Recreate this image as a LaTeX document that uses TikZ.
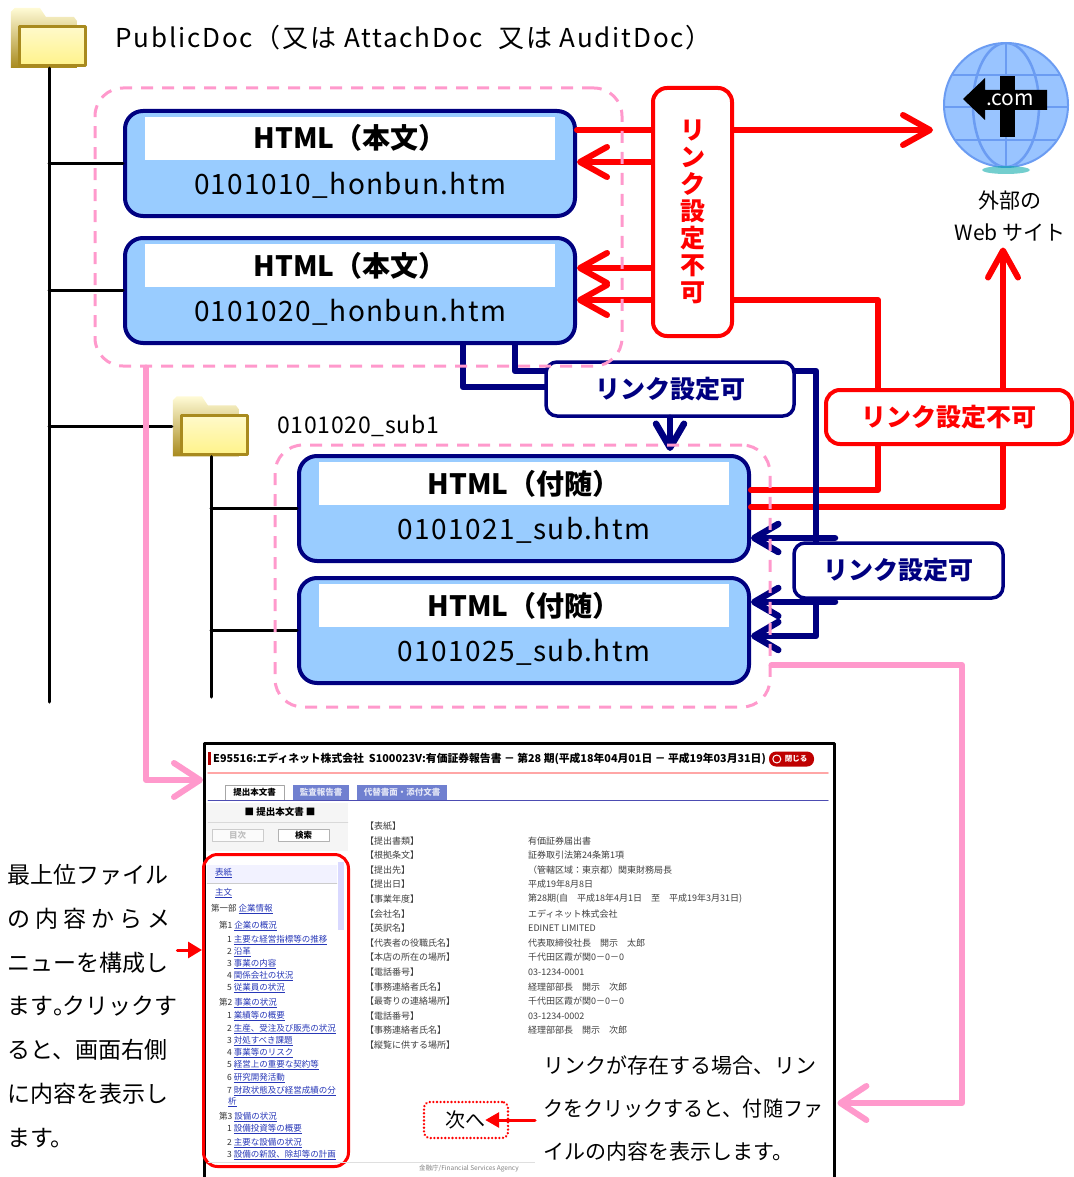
\documentclass[tikz,border=0pt]{standalone}
\usepackage{fontspec}
\usepackage{graphicx}
\setmainfont{Noto Sans CJK JP}
\usetikzlibrary{arrows.meta,positioning}
\definecolor{navyline}{HTML}{000080}
\definecolor{boxblue}{HTML}{99CCFF}
\definecolor{linkred}{HTML}{FF0000}
\definecolor{pinkline}{HTML}{FF99CC}
\definecolor{globefill}{HTML}{99C4FF}
\definecolor{globegrid}{HTML}{6B9CF2}
\definecolor{folderedge}{HTML}{A88A1E}
\definecolor{folderfill}{HTML}{FFF38A}
\definecolor{tabblue}{HTML}{7080D0}
\definecolor{menublue}{HTML}{2838B8}
\newcommand{\menulink}[1]{\textcolor{menublue}{\underline{#1}}}

\begin{document}
\begin{tikzpicture}[x=1pt, y=-1pt, line join=round, line cap=round, >=stealth,
    txt/.style={inner sep=0pt},
    treeline/.style={line width=3pt},
    grpbox/.style={draw=pinkline, line width=3pt, line cap=butt, dash pattern=on 12pt off 9pt, rounded corners=28pt},
    filebox/.style={draw=navyline, line width=4pt, fill=boxblue, rounded corners=18pt, minimum width=450pt, minimum height=105pt},
    band/.style={fill=white, inner sep=0pt, minimum width=410pt, minimum height=43pt},
    htmltitle/.style={inner sep=0pt, anchor=base, font=\fontsize{28}{30}\selectfont\bfseries},
    fname/.style={inner sep=0pt, anchor=base, font=\fontsize{28}{30}\selectfont\addfontfeature{LetterSpace=5}},
    ngbox/.style={draw=linkred, line width=4pt, fill=white, rounded corners=14pt, inner sep=0pt, text=linkred, font=\fontsize{25}{27}\selectfont\bfseries},
    okbox/.style={draw=navyline, line width=3.5pt, fill=white, rounded corners=11pt, inner sep=0pt, text=navyline, font=\fontsize{25}{27}\selectfont\bfseries},
    redline/.style={draw=linkred, line width=6pt},
    navline/.style={draw=navyline, line width=6.5pt},
    pinkarrow/.style={draw=pinkline, line width=6pt, -{Straight Barb[length=26pt,width=34pt,round]}},
    redtip/.tip={Straight Barb[length=27pt,width=30pt,round]},
    navtip/.tip={Straight Barb[length=24pt,width=28pt,round]},
    scrtxt/.style={inner sep=0pt, anchor=west, text=black!75, font=\fontsize{9}{10}\selectfont},
    menuitem/.style={inner sep=0pt, anchor=west, text=black!80, font=\fontsize{8.5}{10}\selectfont},
    tabbox/.style={inner sep=0pt, minimum height=15pt, font=\fontsize{8.5}{9}\selectfont\bfseries},
    dirfolder/.pic={
      \shade[top color=folderfill!35!white, bottom color=folderedge] (1,61) -- (1,5) -- (5,1) -- (30,1) -- (36,10) -- (64,10) -- (67,14) -- (67,61) -- cycle;
      \shadedraw[draw=folderedge, line width=3pt, top color=folderfill!45!white, bottom color=folderfill] (10,20) rectangle (76,59);
    }
  ]
\useasboundingbox (0,0) rectangle (1073,1177);
% rows and columns of the connectors
\coordinate (ya) at (0,130); \coordinate (yb) at (0,162);
\coordinate (yc) at (0,268); \coordinate (yd) at (0,300);
\coordinate (ye) at (0,490); \coordinate (yf) at (0,507);
\coordinate (yg) at (0,387); \coordinate (yh) at (0,371);
\coordinate (yj) at (0,538); \coordinate (yk) at (0,602);
\coordinate (yl) at (0,636); \coordinate (ym) at (0,780);
\coordinate (yn) at (0,665); \coordinate (yo) at (0,1103);
\coordinate (yp) at (0,950);
\coordinate (xa) at (878,0); \coordinate (xb) at (1003,0);
\coordinate (xc) at (463,0); \coordinate (xd) at (515,0);
\coordinate (xe) at (816,0); \coordinate (xf) at (835,0);
\coordinate (xg) at (146,0); \coordinate (xh) at (962,0);
\coordinate (treeend) at (0,702); \coordinate (subend) at (0,697);

% folders
\node[minimum width=78, minimum height=61, inner sep=0] (pubdir) at (49,37.5) {};
\pic at (pubdir.north west) {dirfolder};
\node[txt, right=27pt of pubdir, font=\fontsize{26}{28}\selectfont\addfontfeature{LetterSpace=7}] (pubname) {PublicDoc（又は AttachDoc\ \ 又は AuditDoc）};
\node[minimum width=78, minimum height=61, inner sep=0] (subdir) at (211,426) {};
\pic at (subdir.north west) {dirfolder};
\node[txt, right=27pt of subdir, font=\fontsize{23}{25}\selectfont\addfontfeature{LetterSpace=3}] (subname) {0101020\_sub1};

% html files
\foreach \nm/\cx/\cy/\kind/\fn in {hb1/350/163.5/本文/0101010\_honbun.htm, hb2/350/290.5/本文/0101020\_honbun.htm, sb1/524/508.5/付随/0101021\_sub.htm, sb2/524/630.5/付随/0101025\_sub.htm}{
  \node[filebox] (\nm) at (\cx,\cy) {};
  \node[band, below=8pt of \nm.north] (\nm-band) {};
  \node[htmltitle] (\nm-title) at ([yshift=-40pt]\nm.north) {HTML（\kind）};
  \node[fname] (\nm-file) at ([yshift=-85pt]\nm.north) {\fn};
}

% tree
\draw[treeline] (pubdir.south) -- (pubdir.south |- treeend);
\draw[treeline] (pubdir.south |- hb1.west) -- (hb1.west);
\draw[treeline] (pubdir.south |- hb2.west) -- (hb2.west);
\draw[treeline] (pubdir.south |- subdir.west) -- (subdir.west);
\draw[treeline] (subdir.south) -- (subdir.south |- subend);
\draw[treeline] (subdir.south |- sb1.west) -- (sb1.west);
\draw[treeline] (subdir.south |- sb2.west) -- (sb2.west);

% labels
\node[ngbox, minimum width=79, minimum height=248, align=center] (ng1) at (692.5,212) {リ\\ン\\ク\\設\\定\\不\\可};
\node[ngbox, minimum width=246, minimum height=54] (ng2) at (949,417) {リンク設定不可};
\node[okbox, minimum width=248, minimum height=54] (ok1) at (670,389) {リンク設定可};

% globe
\node[circle, fill=globefill, draw=globegrid, line width=2pt, minimum size=124, inner sep=0] (web) at (1006,105) {};
\fill[teal!70!cyan, opacity=.55] (1006,170) ellipse (24 and 4);
\begin{scope}
  \clip (web.center) circle (61);
  \draw[globegrid, line width=2.5pt] (1006,40) -- (1006,170) (940,75) -- (1072,75) (940,107) -- (1072,107) (940,140) -- (1072,140);
  \draw[globegrid, line width=2.5pt] (web.center) ellipse (33 and 62);
\end{scope}
\fill[black] (1000,76) rectangle (1015,137);
\fill[black] (1047,90) -- (985,90) -- (985,78) -- (963,99) -- (985,120) -- (985,110) -- (1047,110) -- cycle;
\node[txt, text=white, font=\fontsize{21}{22}\selectfont] (dotcom) at (1010,100) {.com};
\node[txt, align=center, font=\fontsize{21}{32}\selectfont] (webtxt) at (1010,216) {外部の\\Web サイト};

% links that cannot be set
\draw[redline] (hb1.east |- ya) -- (ng1.west |- ya);
\draw[redline, -redtip, shorten >=10pt] (ng1.east |- ya) -- (web.west |- ya);
\draw[redline, -redtip] (ng1.west |- yb) -- (hb1.east |- yb);
\draw[redline, -redtip] (ng1.west |- yc) -- (hb2.east |- yc);
\draw[redline, -redtip] (ng1.west |- yd) -- (hb2.east |- yd);
\draw[redline] (sb1.east |- ye) -| (xa |- ng2.south);
\draw[redline] (xa |- ng2.north) |- (ng1.east |- yd);
\draw[redline] (sb1.east |- yf) -| (xb |- ng2.south);
\draw[redline, -redtip, shorten >=6pt] (xb |- ng2.north) -- (xb |- webtxt.south);

% links that can be set
\draw[navline] (hb2.south -| xc) |- (ok1.west |- yg);
\draw[navline] (hb2.south -| xd) |- (ok1.west |- yh);
\draw[navline, -navtip, shorten >=3pt] (ok1.south) -- (ok1.south |- sb1.north);
\draw[navline, -navtip] (ok1.east |- yh) -| (xe |- yl) -- (sb2.east |- yl);
\node[okbox, minimum width=209, minimum height=55] (ok2) at (898.5,570.5) {リンク設定可};
\draw[navline, -navtip] (xf |- yj) -- (sb1.east |- yj);
\draw[navline, -navtip] (xf |- yk) -- (sb2.east |- yk);

% groups
\node[grpbox, minimum width=527, minimum height=278] (grp1) at (358.5,227) {};
\node[grpbox, minimum width=495, minimum height=262] (grp2) at (522.5,576) {};

% screen of the viewer
\node[draw, line width=3pt, fill=white, minimum width=630, minimum height=445, anchor=north west, inner sep=0] (shot) at (203,742) {};
\fill[red!70!black] (208,752) rectangle (210.5,765);
\node[scrtxt, text=black, font=\fontsize{10.8}{11}\selectfont\bfseries] (scrtitle) at (213,758.5) {E95516:エディネット株式会社\ \ S100023V:有価証券報告書 － 第28 期(平成18年04月01日 － 平成19年03月31日)};
\node[fill=red!75!black, rounded corners=7pt, minimum width=45, minimum height=15, inner sep=0, text=white, font=\fontsize{7.5}{8}\selectfont\bfseries] (closebtn) at (791.5,759) {\hspace{9pt}閉じる};
\draw[white, line width=1pt] ([xshift=8pt]closebtn.west) circle (4);
\draw[red!35, line width=1.5pt] (208,773) -- (828,773);
\node[tabbox, draw=gray!70, fill=white, minimum width=59] (tab1) at (254.5,792.5) {提出本文書};
\node[tabbox, fill=tabblue, text=white!80!tabblue, minimum width=56] (tab2) at (321,792.5) {監査報告書};
\node[tabbox, fill=tabblue, text=white!80!tabblue, minimum width=90] (tab3) at (402,792.5) {代替書面・添付文書};
\draw[blue!40!gray, line width=1pt] (208,800) -- (828,800);
\fill[gray!8] (206,803) rectangle (348,851);
\node[txt, text=black, font=\fontsize{9.5}{10}\selectfont\bfseries] (paneltitle) at (280,812) {■ 提出本文書 ■};
\draw[gray!30] (208,822) -- (348,822);
\node[tabbox, draw=gray!40, fill=gray!3, text=gray!50, minimum width=51, minimum height=12] (btn1) at (237.5,835) {目次};
\node[tabbox, draw=gray!60, fill=white, text=black, minimum width=51, minimum height=12] (btn2) at (303.5,835) {検索};

% menu
\fill[blue!5] (207,865) rectangle (337,883);
\draw[gray!40] (207,883) -- (337,883);
\fill[blue!15] (338,862) rectangle (344,930);
\foreach \yy/\xx/\pre/\ttl in {873/215//表紙, 893/215//主文, 909/211/第一部~/企業情報, 926/219/第1~/企業の概況,
  940/227/1~/主要な経営指標等の推移, 952/227/2~/沿革, 964/227/3~/事業の内容,
  976/227/4~/関係会社の状況, 988/227/5~/従業員の状況, 1003/219/第2~/事業の状況,
  1016/227/1~/業績等の概要, 1029/227/2~/生産、受注及び販売の状況, 1041/227/3~/対処すべき課題,
  1053/227/4~/事業等のリスク, 1065/227/5~/経営上の重要な契約等, 1078/227/6~/研究開発活動,
  1091/227/7~/財政状態及び経営成績の分, 1102/228//析, 1117/219/第3~/設備の状況,
  1129/227/1~/設備投資等の概要, 1143/227/2~/主要な設備の状況, 1155/227/3~/設備の新設、除却等の計画}
  \node[menuitem] at (\xx,\yy) {\pre\menulink{\ttl}};
\node[draw=linkred, line width=3pt, rounded corners=14pt, minimum width=145, minimum height=312, anchor=north west, inner sep=0] (menu) at (202,853) {};

% cover page
\foreach \lab [count=\i] in {【表紙】, 【提出書類】, 【根拠条文】, 【提出先】, 【提出日】, 【事業年度】, 【会社名】, 【英訳名】, 【代表者の役職氏名】, 【本店の所在の場所】, 【電話番号】, 【事務連絡者氏名】, 【最寄りの連絡場所】, 【電話番号】, 【事務連絡者氏名】, 【縦覧に供する場所】}
  \node[scrtxt] at (365,{811.4+14.6*\i}) {\lab};
\foreach \val [count=\i from 2] in {有価証券届出書, 証券取引法第24条第1項, （管轄区域：東京都）関東財務局長, 平成19年8月8日, 第28期(自　平成18年4月1日　至　平成19年3月31日), エディネット株式会社, EDINET LIMITED, 代表取締役社長　開示　太郎, 千代田区霞が関0－0－0, 03-1234-0001, 経理部部長　開示　次郎, 千代田区霞が関0－0－0, 03-1234-0002, 経理部部長　開示　次郎}
  \node[scrtxt] at (528,{811.4+14.6*\i}) {\val};
\draw[gray!25, line width=1pt] (208,1162) -- (535,1162);
\node[scrtxt, text=gray, font=\fontsize{6.5}{7}\selectfont] (footer) at (419,1169) {金融庁/Financial Services Agency};
\node[draw=linkred, line width=2.6pt, dash pattern=on 0.01pt off 3.6pt, rounded corners=6pt, minimum width=84, minimum height=36, inner sep=0] (nextbox) at (466,1120) {};
\node[txt, font=\fontsize{20}{22}\selectfont] (nexttxt) at (465,1120) {次へ};

% notes
\node[txt, anchor=west, align=left, font=\fontsize{23}{43.9}\selectfont] (ltext) at (7,1006) {最上位ファイル\\の~内~容~か~ら~メ\\ニューを構成し\\ます\makebox[9pt][l]{。}クリックす\\ると、画面右側\\に内容を表示し\\ます。};
\node[fill=white, inner xsep=8pt, inner ysep=0pt, minimum width=297, minimum height=136, text width=281pt, anchor=west, align=left, font=\fontsize{21}{43}\selectfont] (rtext) at (535,1108) {リンクが存在する場合、リン\\\scalebox{0.955}[1]{クをクリックすると、付随ファ}\\イルの内容を表示します。};
\draw[linkred, line width=3pt, -{Triangle[length=14pt,width=16pt]}] (ltext.east |- yp) -- (menu.west |- yp);
\draw[linkred, line width=3pt, -{Triangle[length=14pt,width=15pt]}] (rtext.west |- nexttxt) -- (nexttxt.east);

% where the files are shown
\draw[pinkarrow] (grp1.south -| xg) |- (shot.west |- ym);
\draw[pinkarrow, shorten >=5pt] (grp2.east |- yn) -| (xh |- yo) -- (rtext.east |- yo);
\end{tikzpicture}
\end{document}
